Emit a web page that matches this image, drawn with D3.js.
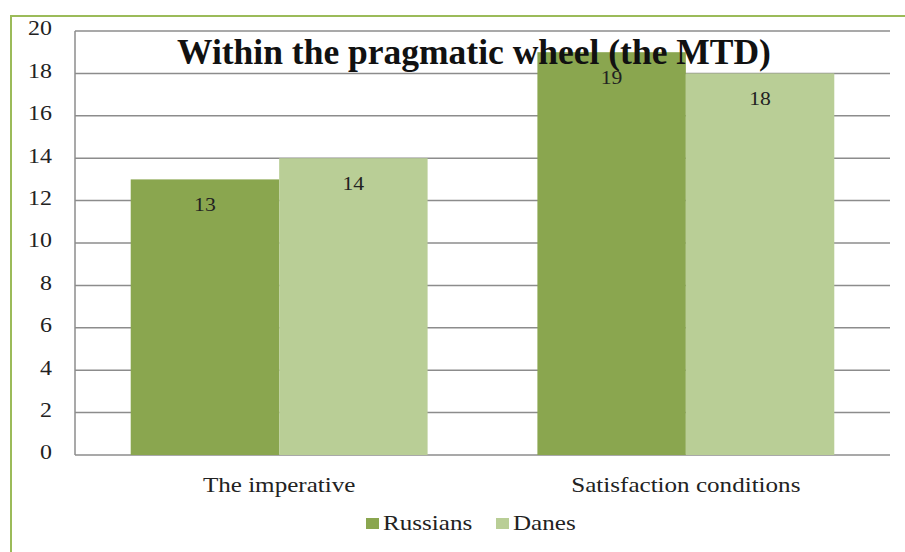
<!DOCTYPE html>
<html>
<head>
<meta charset="utf-8">
<script src="https://cdn.jsdelivr.net/npm/d3@7"></script>
<style>
  body { margin: 0; background: #fff; }
</style>
</head>
<body>
<svg id="chart" width="905" height="552" font-family="Liberation Serif"></svg>
<script>
const categories = ["The imperative", "Satisfaction conditions"];
const seriesNames = ["Russians", "Danes"];
const russians = [13, 19];
const danes = [14, 18];
const yTicks = [0, 2, 4, 6, 8, 10, 12, 14, 16, 18, 20];
const titleText = "Within the pragmatic wheel (the MTD)";

const colors = ["#8aa64f", "#b9ce96"];
const svg = d3.select("#chart");

const margin = { left: 75, right: 890, top: 31, bottom: 455 };

// outer green frame
svg.append("path")
  .attr("d", "M11,552 L11,16 L905,16")
  .attr("fill", "none")
  .attr("stroke", "#9bbb59")
  .attr("stroke-width", 2);

const x0 = d3.scaleBand()
  .domain(categories)
  .range([margin.left, margin.right])
  .paddingInner(0.27)
  .paddingOuter(0.137);

const x1 = d3.scaleBand()
  .domain(seriesNames)
  .range([0, x0.bandwidth()]);

const y = d3.scaleLinear()
  .domain([0, 20])
  .range([margin.bottom, margin.top]);

// gridlines
svg.append("g")
  .selectAll("line")
  .data(yTicks)
  .enter().append("line")
  .attr("x1", margin.left)
  .attr("x2", margin.right)
  .attr("y1", d => y(d))
  .attr("y2", d => y(d))
  .attr("stroke", "#8c8c8c")
  .attr("stroke-width", 1.5);

// y axis line
svg.append("line")
  .attr("x1", margin.left).attr("x2", margin.left)
  .attr("y1", margin.top).attr("y2", margin.bottom)
  .attr("stroke", "#8c8c8c")
  .attr("stroke-width", 1.5);

// y tick labels
svg.append("g")
  .selectAll("text")
  .data(yTicks)
  .enter().append("text")
  .attr("class", "wide")
  .attr("x", 52)
  .attr("y", d => y(d) - 3)
  .attr("dy", "0.35em")
  .attr("text-anchor", "end")
  .attr("font-size", 21)
  .attr("fill", "#222")
  .text(d => d);

const rows = categories.map((c, i) => ({ cat: c, values: [russians[i], danes[i]] }));

const groups = svg.append("g")
  .selectAll("g")
  .data(rows)
  .enter().append("g")
  .attr("transform", d => `translate(${x0(d.cat)},0)`);

groups.selectAll("rect")
  .data(d => d.values.map((v, j) => ({ name: seriesNames[j], value: v, j })))
  .enter().append("rect")
  .attr("x", d => x1(d.name))
  .attr("width", x1.bandwidth())
  .attr("y", d => y(d.value))
  .attr("height", d => y(0) - y(d.value))
  .attr("fill", d => colors[d.j]);

groups.selectAll("text.val")
  .data(d => d.values.map((v, j) => ({ name: seriesNames[j], value: v })))
  .enter().append("text")
  .attr("class", "val wide")
  .attr("x", d => x1(d.name) + x1.bandwidth() / 2)
  .attr("y", d => y(d.value) + 25)
  .attr("dy", "0.35em")
  .attr("text-anchor", "middle")
  .attr("font-size", 19)
  .attr("fill", "#222")
  .text(d => d.value);

// category labels
svg.append("g")
  .selectAll("text")
  .data(categories)
  .enter().append("text")
  .attr("class", "wide")
  .attr("x", d => x0(d) + x0.bandwidth() / 2)
  .attr("y", 492)
  .attr("text-anchor", "middle")
  .attr("font-size", 22)
  .attr("fill", "#222")
  .text(d => d);

// title
svg.append("text")
  .attr("x", 474)
  .attr("y", 64)
  .attr("text-anchor", "middle")
  .attr("font-size", 35.5)
  .attr("font-weight", "bold")
  .attr("fill", "#111")
  .text(titleText);

// legend
const legendX = [366, 496];
const legend = svg.append("g")
  .selectAll("g")
  .data(seriesNames)
  .enter().append("g")
  .attr("transform", (d, i) => `translate(${legendX[i]},518)`);

legend.append("rect")
  .attr("width", 13)
  .attr("height", 11)
  .attr("fill", (d, i) => colors[i]);

legend.append("text")
  .attr("class", "wide")
  .attr("x", 17)
  .attr("y", 12)
  .attr("font-size", 22)
  .attr("fill", "#222")
  .text(d => d);

// the source picture is a bit stretched sideways
svg.selectAll("text.wide").each(function () {
  const w = this.getComputedTextLength();
  d3.select(this)
    .attr("textLength", w * 1.14)
    .attr("lengthAdjust", "spacingAndGlyphs");
});
</script>
</body>
</html>
